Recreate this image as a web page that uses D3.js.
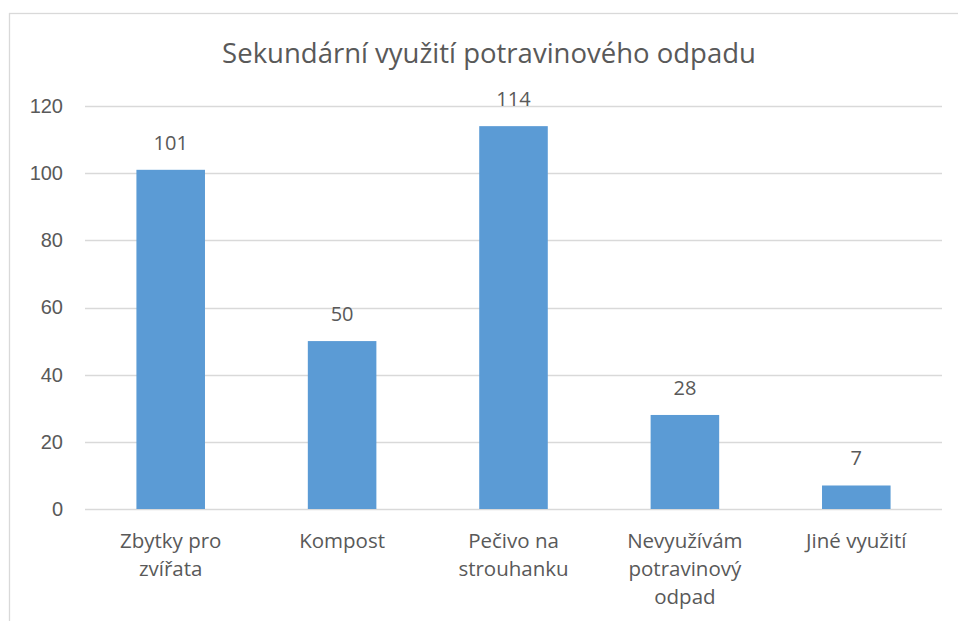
<!DOCTYPE html>
<html>
<head>
<meta charset="utf-8">
<script src="https://cdn.jsdelivr.net/npm/d3@7"></script>
<style>
  body { margin: 0; background: #fff; }
  svg { display: block; font-family: "Open Sans", sans-serif; }
</style>
</head>
<body>
<svg id="chart" width="958" height="621"></svg>
<script>
// Data
const categories = [
  ["Zbytky pro", "zvířata"],
  ["Kompost"],
  ["Pečivo na", "strouhanku"],
  ["Nevyužívám", "potravinový", "odpad"],
  ["Jiné využití"]
];
const values = [101, 50, 114, 28, 7];
const yTicks = [0, 20, 40, 60, 80, 100, 120];
const title = "Sekundární využití potravinového odpadu";

const svg = d3.select('#chart');
const textColor = '#595959';

// chart border
svg.append('rect')
  .attr('x', 9.5).attr('y', 13.5)
  .attr('width', 960).attr('height', 620)
  .attr('fill', 'none')
  .attr('stroke', '#d9d9d9')
  .attr('stroke-width', 1.3);

const margin = { left: 85, right: 942, top: 106, bottom: 509 };

const x = d3.scaleBand()
  .domain(d3.range(categories.length))
  .range([margin.left, margin.right])
  .paddingInner(0.6)
  .paddingOuter(0.3);

const y = d3.scaleLinear()
  .domain([0, 120])
  .range([margin.bottom, margin.top]);

// gridlines
svg.append('g')
  .selectAll('line')
  .data(yTicks)
  .enter()
  .append('line')
  .attr('x1', margin.left)
  .attr('x2', margin.right)
  .attr('y1', d => Math.round(y(d)) + 0.5)
  .attr('y2', d => Math.round(y(d)) + 0.5)
  .attr('stroke', '#d9d9d9')
  .attr('stroke-width', 1.3);

// y axis labels
const yAxis = d3.axisLeft(y).tickValues(yTicks).tickSize(0).tickPadding(22);
const yg = svg.append('g')
  .attr('transform', `translate(${margin.left},0)`)
  .call(yAxis);
yg.select('.domain').remove();
yg.selectAll('text')
  .attr('fill', textColor)
  .style('font-size', '20px');

// bars
svg.append('g')
  .selectAll('rect')
  .data(values)
  .enter()
  .append('rect')
  .attr('x', (d, i) => x(i))
  .attr('width', x.bandwidth())
  .attr('y', d => y(d))
  .attr('height', d => y(0) - y(d))
  .attr('fill', '#5b9bd5');

// data labels
svg.append('g')
  .selectAll('text')
  .data(values)
  .enter()
  .append('text')
  .attr('x', (d, i) => x(i) + x.bandwidth() / 2)
  .attr('y', d => y(d) - 20)
  .attr('text-anchor', 'middle')
  .attr('fill', textColor)
  .style('font-size', '20px')
  .text(d => d);

// category labels
const catG = svg.append('g');
categories.forEach((lines, i) => {
  const t = catG.append('text')
    .attr('text-anchor', 'middle')
    .attr('fill', textColor)
    .style('font-size', '20.5px');
  lines.forEach((line, j) => {
    t.append('tspan')
      .attr('x', x(i) + x.bandwidth() / 2)
      .attr('y', 548 + j * 28)
      .text(line);
  });
});

// title
svg.append('text')
  .attr('x', 489)
  .attr('y', 63)
  .attr('text-anchor', 'middle')
  .attr('fill', textColor)
  .style('font-size', '27.5px')
  .text(title);
</script>
</body>
</html>
